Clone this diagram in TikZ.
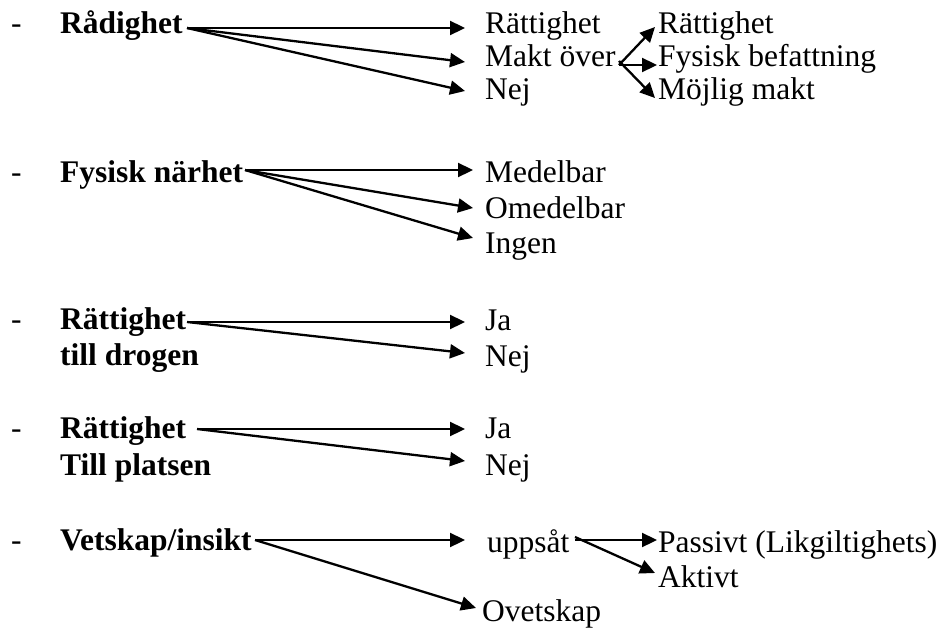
\documentclass[tikz,border=0pt]{standalone}
\usepackage{fontspec}
\setmainfont{Liberation Serif}
\usetikzlibrary{arrows.meta}
\begin{document}
\begin{tikzpicture}[x=1pt,y=-1pt,
  txt/.style={anchor=base west,inner sep=0pt,font=\fontsize{31.5}{36}\selectfont},
  btxt/.style={txt,font=\fontsize{31.5}{36}\selectfont\bfseries},
  arr/.style={line width=2.3pt,-{Triangle[length=15pt,width=14pt]}}]
\useasboundingbox (0,0) rectangle (946,629);
% block 1
\node[txt] (d1) at (11,33) {-};
\node[btxt] (rad) at (60,33) {Rådighet};
\node[txt] (r1a) at (485,33) {Rättighet};
\node[txt] (r1b) at (485,66) {Makt över};
\node[txt] (r1c) at (485,99) {Nej};
\node[txt] (m1a) at (658,33) {Rättighet};
\node[txt] (m1b) at (658,66) {Fysisk befattning};
\node[txt] (m1c) at (658,99) {Möjlig makt};
\coordinate (s1) at (187,28);
\coordinate (t1a) at (465,28);
\coordinate (t1b) at (465,62);
\coordinate (t1c) at (465,91);
\draw[arr] (s1) -- (t1a);
\draw[arr] (s1) -- (t1b);
\draw[arr] (s1) -- (t1c);
\coordinate (s1m) at (619,65);
\coordinate (u1a) at (655,27);
\coordinate (u1b) at (657,65);
\coordinate (u1c) at (655,98);
\draw[arr] (s1m) -- (u1a);
\draw[arr] (s1m) -- (u1b);
\draw[arr] ([yshift=4pt]s1m) -- (u1c);
% block 2
\node[txt] (d2) at (11,182) {-};
\node[btxt] (fys) at (60,182) {Fysisk närhet};
\node[txt] (r2a) at (485,182) {Medelbar};
\node[txt] (r2b) at (485,218) {Omedelbar};
\node[txt] (r2c) at (485,253) {Ingen};
\coordinate (s2) at (245,170);
\coordinate (t2a) at (473,170);
\coordinate (t2b) at (473,208);
\coordinate (t2c) at (473,238);
\draw[arr] (s2) -- (t2a);
\draw[arr] (s2) -- (t2b);
\draw[arr] (s2) -- (t2c);
% block 3
\node[txt] (d3) at (11,329) {-};
\node[btxt] (ratt1) at (60,329) {Rättighet};
\node[btxt] (drog) at (60,365) {till drogen};
\node[txt] (r3a) at (485,330) {Ja};
\node[txt] (r3b) at (485,366) {Nej};
\coordinate (s3) at (187,322);
\coordinate (t3a) at (465,322);
\coordinate (t3b) at (465,353);
\draw[arr] (s3) -- (t3a);
\draw[arr] (s3) -- (t3b);
% block 4
\node[txt] (d4) at (11,438) {-};
\node[btxt] (ratt2) at (60,438) {Rättighet};
\node[btxt] (plats) at (60,475) {Till platsen};
\node[txt] (r4a) at (485,438) {Ja};
\node[txt] (r4b) at (485,475) {Nej};
\coordinate (s4) at (197,429);
\coordinate (t4a) at (465,429);
\coordinate (t4b) at (465,461);
\draw[arr] (s4) -- (t4a);
\draw[arr] (s4) -- (t4b);
% block 5
\node[txt] (d5) at (11,550) {-};
\node[btxt] (vet) at (60,550) {Vetskap/insikt};
\node[txt] (upp) at (487,552) {uppsåt};
\node[txt] (ovet) at (482,621) {Ovetskap};
\node[txt] (pas) at (658,552) {Passivt (Likgiltighets)};
\node[txt] (akt) at (658,587) {Aktivt};
\coordinate (s5) at (255,540);
\coordinate (t5a) at (465,540);
\coordinate (t5b) at (476,608);
\draw[arr] (s5) -- (t5a);
\draw[arr] (s5) -- (t5b);
\coordinate (s5u) at (575,540);
\coordinate (u5a) at (657,540);
\coordinate (u5b) at (655,573);
\draw[arr] (s5u) -- (u5a);
\draw[arr] ([yshift=3pt]s5u) -- (u5b);
\end{tikzpicture}
\end{document}
